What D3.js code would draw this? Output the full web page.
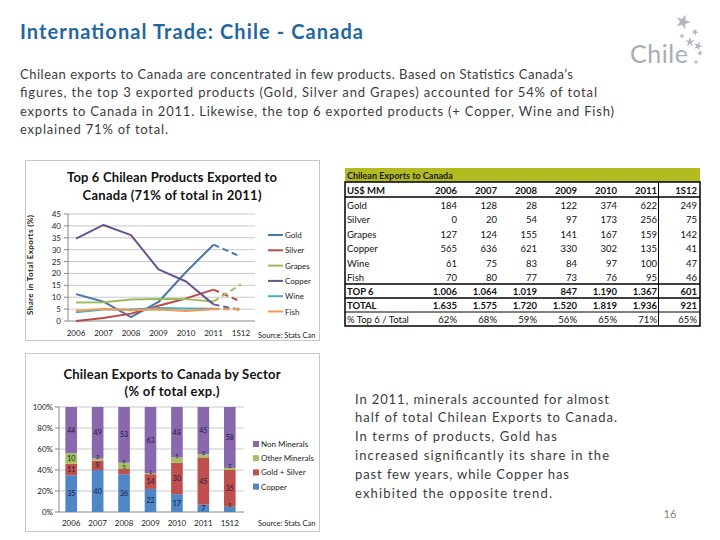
<!DOCTYPE html>
<html><head><meta charset="utf-8">
<script src="https://cdn.jsdelivr.net/npm/d3@7"></script>
<style>body{margin:0;background:#fff}svg{display:block}</style>
</head><body>
<svg id="c" width="720" height="540"></svg>
<script>
// ---------- DATA ----------
const years = ["2006","2007","2008","2009","2010","2011","1S12"];
// Line chart: share in total exports (%)
const products = ["Gold","Silver","Grapes","Copper","Wine","Fish"];
const shareGold   = [11.3, 8.1, 1.6, 8.0, 20.6, 32.1, 27.0];
const shareSilver = [0.0, 1.3, 3.1, 6.4, 9.5, 13.2, 8.1];
const shareGrapes = [7.8, 7.9, 9.0, 9.3, 9.2, 8.2, 15.4];
const shareCopper = [34.6, 40.4, 36.1, 21.7, 16.6, 7.0, 4.5];
const shareWine   = [3.7, 4.8, 4.8, 5.5, 5.3, 5.2, 5.1];
const shareFish   = [4.3, 5.1, 4.5, 4.8, 4.2, 4.9, 5.0];
const yTicksLine = [0,5,10,15,20,25,30,35,40,45];
// Table (US$ MM)
const tGold   = [184,128,28,122,374,622,249];
const tSilver = [0,20,54,97,173,256,75];
const tGrapes = [127,124,155,141,167,159,142];
const tCopper = [565,636,621,330,302,135,41];
const tWine   = [61,75,83,84,97,100,47];
const tFish   = [70,80,77,73,76,95,46];
const tTop6   = ["1.006","1.064","1.019","847","1.190","1.367","601"];
const tTotal  = ["1.635","1.575","1.720","1.520","1.819","1.936","921"];
const tPct    = ["62%","68%","59%","56%","65%","71%","65%"];
// Bar chart: share by sector (% of total exports)
const sectors = ["Copper","Gold + Silver","Other Minerals","Non Minerals"];
const secCopper     = [35, 40, 36, 22, 17, 7, 5];
const secGoldSilver = [11, 9, 5, 14, 30, 45, 35];
const secOther      = [10, 2, 6, 1, 5, 3, 2];
const secNon        = [44, 49, 53, 63, 48, 45, 58];
const yTicksBar = [0,20,40,60,80,100];

// ---------- SETUP ----------
const F = "Lato, 'Open Sans', 'Liberation Sans', sans-serif";
const svg = d3.select("#c");
svg.append("rect").attr("width",720).attr("height",540).attr("fill","#fff");
function txt(x,y,s,o={}){
  const t = svg.append("text").attr("x",x).attr("y",y).text(s)
    .attr("font-family",o.f||F).attr("font-size",o.size||10)
    .attr("fill",o.fill||"#333").attr("font-weight",o.w||"normal")
    .attr("text-anchor",o.anchor||"start");
  if(o.len){t.attr("textLength",o.len).attr("lengthAdjust","spacing");}
  return t;
}

// ---------- HEADER ----------
txt(20,39,"International Trade: Chile - Canada",{size:20,w:"bold",fill:"#1f66a3",len:343});
const para = [
 ["Chilean exports to Canada are concentrated in few products. Based on Statistics Canada’s",553],
 ["figures, the top 3 exported products (Gold, Silver and Grapes) accounted for 54% of total",577],
 ["exports to Canada in 2011. Likewise, the top 6 exported products (+ Copper, Wine and Fish)",594],
 ["explained 71% of total.",148]];
para.forEach((p,i)=>txt(20,78.5+i*18.5,p[0],{size:13,fill:"#3c3c3c",len:p[1]}));

// Logo
txt(659,63,"Chile",{size:25,fill:"#a7acb3",anchor:"middle",len:58});
const stars = [[683,22,70],[695,32,16],[682,36,10],[690,42,30],[698,46,26],[700,53,12],[696,62,8]];
stars.forEach(s=>svg.append("path").attr("d",d3.symbol(d3.symbolStar,s[2])())
  .attr("transform",`translate(${s[0]},${s[1]}) rotate(${s[0]%3*10})`).attr("fill","#b3b8c0"));

// ---------- LINE CHART ----------
svg.append("rect").attr("x",25.5).attr("y",160.5).attr("width",294).attr("height",180)
  .attr("fill","none").attr("stroke","#c8c8c8");
txt(172,182,"Top 6 Chilean Products Exported to",{size:13,w:"bold",fill:"#111",anchor:"middle",len:210});
txt(172,199.5,"Canada (71% of total in 2011)",{size:13,w:"bold",fill:"#111",anchor:"middle",len:179});
const xL = d3.scalePoint().domain(years).range([76,241]);
const yL = d3.scaleLinear().domain([0,45]).range([321,214]);
const gL = svg.append("g");
yTicksLine.forEach(t=>{
  if(t>0) gL.append("line").attr("x1",68).attr("x2",255).attr("y1",yL(t)).attr("y2",yL(t)).attr("stroke","#c8c8c8");
  gL.append("line").attr("x1",64).attr("x2",68).attr("y1",yL(t)).attr("y2",yL(t)).attr("stroke","#888");
  txt(61,yL(t)+3,String(t),{size:8,fill:"#222",anchor:"end"});
});
gL.append("line").attr("x1",68).attr("x2",68).attr("y1",214).attr("y2",321).attr("stroke","#888");
gL.append("line").attr("x1",68).attr("x2",255).attr("y1",321).attr("y2",321).attr("stroke","#888");
years.forEach(y=>txt(xL(y),336,y,{size:8,fill:"#222",anchor:"middle"}));
txt(33,265,"Share in Total Exports (%)",{size:8,w:"bold",fill:"#222",anchor:"middle",len:100})
  .attr("transform","rotate(-90,33,265)");
const lineSeries = [
  ["Gold",shareGold,"#4a76a8"],["Silver",shareSilver,"#b94a47"],["Grapes",shareGrapes,"#9bbb59"],
  ["Copper",shareCopper,"#6a5390"],["Wine",shareWine,"#4bacc6"],["Fish",shareFish,"#f39a4e"]];
const lineGen = d3.line().x(d=>xL(d[0])).y(d=>yL(d[1]));
lineSeries.forEach((s,i)=>{
  const pts = years.map((y,j)=>[y,s[1][j]]);
  svg.append("path").attr("d",lineGen(pts.slice(0,6))).attr("fill","none")
    .attr("stroke",s[2]).attr("stroke-width",2).attr("stroke-linejoin","round");
  svg.append("path").attr("d",lineGen(pts.slice(5))).attr("fill","none")
    .attr("stroke",s[2]).attr("stroke-width",2).attr("stroke-dasharray","6,4");
  const ly = 235 + i*15.3;
  svg.append("line").attr("x1",268).attr("x2",283).attr("y1",ly).attr("y2",ly).attr("stroke",s[2]).attr("stroke-width",2);
  txt(285,ly+3,s[0],{size:8,fill:"#222"});
});
txt(258,338,"Source: Stats Can",{size:7.5,fill:"#222"});

// ---------- TABLE ----------
const tx = d3.scalePoint().domain(years).range([457,697]);
svg.append("rect").attr("x",345).attr("y",168).attr("width",355).attr("height",14).attr("fill","#b2bb20");
txt(347,178.5,"Chilean Exports to Canada",{size:9,w:"bold",fill:"#1a1a1a"});
const rows = [
  ["US$ MM",years,true,190],
  ["Gold",tGold,false,205],["Silver",tSilver,false,219.5],["Grapes",tGrapes,false,234],
  ["Copper",tCopper,false,248.5],["Wine",tWine,false,263],["Fish",tFish,false,277.5],
  ["TOP 6",tTop6,true,291],["TOTAL",tTotal,true,305],["% Top 6 / Total",tPct,false,319]];
rows.forEach(r=>{
  txt(347,r[3]+3.5,r[0],{size:9.5,w:r[2]?"bold":"normal",fill:"#111"});
  r[1].forEach((v,j)=>txt(tx(years[j]),r[3]+3.5,String(v),{size:9.5,w:r[2]?"bold":"normal",fill:"#111",anchor:"end"}));
});
svg.append("rect").attr("x",345).attr("y",182).attr("width",355).attr("height",144)
  .attr("fill","none").attr("stroke","#000").attr("stroke-width",1.5);
[[197,1.5],[284,1.5],[298,1.5],[312,1]].forEach(l=>svg.append("line").attr("x1",345).attr("x2",700)
  .attr("y1",l[0]).attr("y2",l[0]).attr("stroke","#000").attr("stroke-width",l[1]));
svg.append("line").attr("x1",658.5).attr("x2",658.5).attr("y1",182).attr("y2",326).attr("stroke","#000").attr("stroke-width",1);

// ---------- BAR CHART ----------
svg.append("rect").attr("x",25.5).attr("y",353.5).attr("width",294).attr("height",178)
  .attr("fill","none").attr("stroke","#c8c8c8");
txt(172,379,"Chilean Exports to Canada by Sector",{size:13,w:"bold",fill:"#111",anchor:"middle",len:217});
txt(172,395.5,"(% of total exp.)",{size:13,w:"bold",fill:"#111",anchor:"middle",len:95});
const xB = d3.scaleBand().domain(years).range([58,243]).paddingInner(0.56).paddingOuter(0.28);
const yB = d3.scaleLinear().domain([0,100]).range([512,407]);
yTicksBar.forEach(t=>{
  if(t>0) svg.append("line").attr("x1",59).attr("x2",244).attr("y1",yB(t)).attr("y2",yB(t)).attr("stroke","#c8c8c8");
  svg.append("line").attr("x1",55).attr("x2",59).attr("y1",yB(t)).attr("y2",yB(t)).attr("stroke","#888");
  txt(53,yB(t)+3,t+"%",{size:8,fill:"#222",anchor:"end"});
});
svg.append("line").attr("x1",59).attr("x2",59).attr("y1",407).attr("y2",512).attr("stroke","#888");
svg.append("line").attr("x1",59).attr("x2",244).attr("y1",512).attr("y2",512).attr("stroke","#888");
years.forEach(y=>txt(xB(y)+xB.bandwidth()/2,526,y,{size:8,fill:"#222",anchor:"middle"}));
const barRows = years.map((y,j)=>({year:y,"Copper":secCopper[j],"Gold + Silver":secGoldSilver[j],
  "Other Minerals":secOther[j],"Non Minerals":secNon[j]}));
const stack = d3.stack().keys(sectors)(barRows);
const barColors = {"Copper":"#4f86c6","Gold + Silver":"#c0504d","Other Minerals":"#a5c060","Non Minerals":"#8a68ae"};
stack.forEach(layer=>{
  layer.forEach(d=>{
    svg.append("rect").attr("x",xB(d.data.year)).attr("width",xB.bandwidth())
      .attr("y",yB(d[1])).attr("height",yB(d[0])-yB(d[1])).attr("fill",barColors[layer.key]);
  });
});
stack.forEach(layer=>{
  layer.forEach(d=>{
    const h = yB(d[0])-yB(d[1]);
    const small = h < 7;
    const ly = small ? yB(d[1]) + 0.5 : (yB(d[0])+yB(d[1]))/2 + 2.5;
    txt(xB(d.data.year)+xB.bandwidth()/2,ly,String(d.data[layer.key]),
      {size:small?5.5:7,fill:"#1a1a3a",anchor:"middle"});
  });
});
const legB = ["Non Minerals","Other Minerals","Gold + Silver","Copper"];
legB.forEach((k,i)=>{
  const ly = 444 + i*14.2;
  svg.append("rect").attr("x",253).attr("y",ly-3).attr("width",6).attr("height",6).attr("fill",barColors[k]);
  txt(261,ly+3,k,{size:8,fill:"#222"});
});
txt(258,525.5,"Source: Stats Can",{size:7.5,fill:"#222"});

// ---------- RIGHT TEXT ----------
const right = [["In 2011, minerals accounted for almost",254],["half of total Chilean Exports to Canada.",262],
  ["In terms of products, Gold has",202],["increased significantly its share in the",254],
  ["past few years, while Copper has",214],["exhibited the opposite trend.",197]];
right.forEach((r,i)=>txt(355,403.5+i*18.9,r[0],{size:13,fill:"#3c3c3c",len:r[1]}));
txt(670,518,"16",{size:11,fill:"#808080",anchor:"middle"});
</script>
</body></html>
